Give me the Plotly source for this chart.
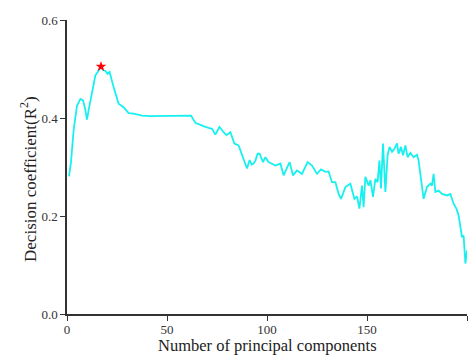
import plotly.graph_objects as go

n_components = [1, 2, 3.3, 5, 6.7, 8, 9, 10, 11, 12.5, 14.2, 15.5, 17, 18, 19.2, 20.3, 21.3,
                23.3, 25.8, 28.3, 30.8, 33.3, 37.5, 42, 50, 55, 62, 64.2, 66.7, 68.5, 70.8,
                72.5, 74.2, 76.2, 78.3, 79.7, 81.7, 83.7, 85.8, 88, 90, 91.3, 92.3, 93.3,
                94.2, 95.3, 96.3, 98, 99.2, 100.8, 102.5, 104.2, 106.7, 108.3, 111.3, 113,
                115, 117.5, 120.3, 122.5, 125, 127, 129.2, 130.8, 132.5, 134.2, 135.8, 137,
                139.2, 141.7, 143.7, 145, 146.2, 147.5, 148.3, 149.2, 150.8, 151.7, 153,
                154.2, 155.3, 156.2, 157, 158, 159.2, 160.3, 161.3, 162.5, 163.7, 165,
                165.8, 167, 168, 169.2, 170.3, 171.7, 173.3, 175, 175.8, 177, 178.3, 180,
                181.7, 182.5, 183.3, 184.2, 185.8, 187.5, 190, 191.7, 193.3, 194.7, 195.8,
                197.5, 198.3, 199.2, 200]
r2_values = [0.281, 0.31, 0.375, 0.425, 0.439, 0.436, 0.42, 0.397, 0.42, 0.45, 0.487, 0.495,
             0.505, 0.498, 0.496, 0.49, 0.494, 0.463, 0.429, 0.422, 0.41, 0.409, 0.405,
             0.404, 0.404, 0.405, 0.405, 0.39, 0.385, 0.383, 0.38, 0.378, 0.366, 0.382,
             0.371, 0.365, 0.371, 0.348, 0.344, 0.318, 0.297, 0.314, 0.305, 0.307, 0.313,
             0.327, 0.327, 0.31, 0.32, 0.31, 0.307, 0.303, 0.307, 0.283, 0.31, 0.283, 0.293,
             0.286, 0.31, 0.303, 0.286, 0.295, 0.29, 0.291, 0.269, 0.269, 0.245, 0.235,
             0.259, 0.266, 0.235, 0.24, 0.215, 0.262, 0.218, 0.28, 0.262, 0.273, 0.239,
             0.276, 0.269, 0.313, 0.256, 0.348, 0.249, 0.324, 0.341, 0.331, 0.337, 0.348,
             0.327, 0.341, 0.324, 0.344, 0.32, 0.329, 0.32, 0.325, 0.313, 0.276, 0.235,
             0.259, 0.266, 0.262, 0.286, 0.249, 0.252, 0.245, 0.242, 0.245, 0.225, 0.215,
             0.201, 0.157, 0.16, 0.103, 0.13]
best_x = [17]
best_y = [0.505]
x_ticks = [0, 50, 100, 150, 200]
y_ticks = [0.0, 0.2, 0.4, 0.6]
x_title = "Number of principal components"
y_title = "Decision coefficient(R<sup>2</sup>)"

font_family = "Liberation Serif, Times New Roman, serif"

fig = go.Figure()
fig.add_trace(go.Scatter(x=n_components, y=r2_values, mode="lines",
                         line=dict(color="#18F0F0", width=1.8), showlegend=False))
fig.add_trace(go.Scatter(x=best_x, y=best_y, mode="markers",
                         marker=dict(symbol="star", color="red", size=8), showlegend=False))

axis_common = dict(showgrid=False, zeroline=False, showline=True, linecolor="#333333",
                   linewidth=1.5, ticks="outside", ticklen=5, tickcolor="#333333",
                   tickfont=dict(size=13))

fig.update_layout(
    width=475, height=356,
    margin=dict(l=67, r=8, t=20, b=42),
    paper_bgcolor="white", plot_bgcolor="white",
    font=dict(family=font_family, color="#333333", size=13),
    xaxis=dict(range=[0, 200], tickvals=x_ticks, ticklabelstandoff=-2, **axis_common),
    yaxis=dict(range=[0, 0.6], tickvals=y_ticks, tickformat=".1f", **axis_common),
    annotations=[
        dict(text=x_title, xref="paper", yref="paper", x=0.5, y=-0.1426,
             xanchor="center", yanchor="bottom", showarrow=False, borderpad=0,
             font=dict(size=16.5, color="#222222")),
        dict(text=y_title, xref="paper", yref="paper", x=-0.097, y=0.46,
             xanchor="center", yanchor="middle", textangle=-90, showarrow=False,
             font=dict(size=17, color="#222222")),
    ],
)

fig.write_html("out.html")
